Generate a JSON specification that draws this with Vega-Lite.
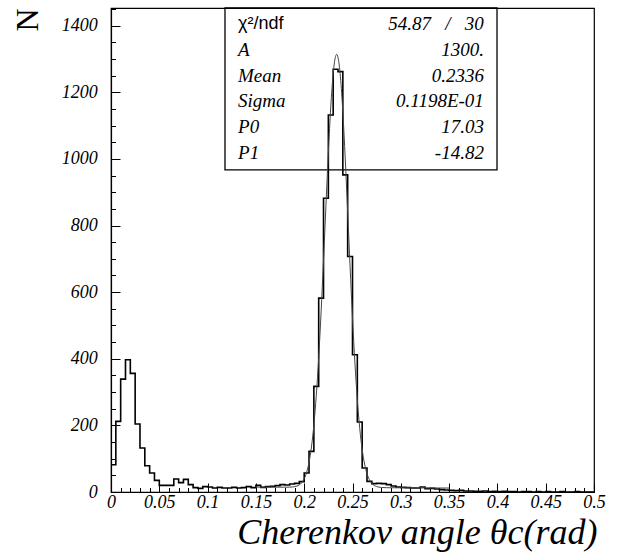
{
  "$schema": "https://vega.github.io/schema/vega-lite/v6.json",
  "width": 483,
  "height": 484,
  "autosize": {"type": "none"},
  "padding": {"left": 111, "top": 8, "right": 25, "bottom": 61},
  "background": "white",
  "config": {"view": {"stroke": "black", "strokeWidth": 1.2}, "font": "Liberation Serif"},
  "resolve": {"axis": {"x": "independent", "y": "independent"}},
  "datasets": {
    "hist": [
      {"lo": 0, "n": 82}, {"lo": 0.005, "n": 212}, {"lo": 0.01, "n": 339}, {"lo": 0.015, "n": 397}, {"lo": 0.02, "n": 356},
      {"lo": 0.025, "n": 204}, {"lo": 0.03, "n": 132}, {"lo": 0.035, "n": 79}, {"lo": 0.04, "n": 57}, {"lo": 0.045, "n": 35},
      {"lo": 0.05, "n": 20}, {"lo": 0.055, "n": 20}, {"lo": 0.06, "n": 20}, {"lo": 0.065, "n": 39}, {"lo": 0.07, "n": 28},
      {"lo": 0.075, "n": 38}, {"lo": 0.08, "n": 22}, {"lo": 0.085, "n": 13}, {"lo": 0.09, "n": 11}, {"lo": 0.095, "n": 16},
      {"lo": 0.1, "n": 15}, {"lo": 0.105, "n": 12}, {"lo": 0.11, "n": 14}, {"lo": 0.115, "n": 12}, {"lo": 0.12, "n": 12},
      {"lo": 0.125, "n": 14}, {"lo": 0.13, "n": 12}, {"lo": 0.135, "n": 13}, {"lo": 0.14, "n": 16}, {"lo": 0.145, "n": 13},
      {"lo": 0.15, "n": 20}, {"lo": 0.155, "n": 14}, {"lo": 0.16, "n": 16}, {"lo": 0.165, "n": 17}, {"lo": 0.17, "n": 19},
      {"lo": 0.175, "n": 22}, {"lo": 0.18, "n": 21}, {"lo": 0.185, "n": 24}, {"lo": 0.19, "n": 26}, {"lo": 0.195, "n": 31},
      {"lo": 0.2, "n": 57}, {"lo": 0.205, "n": 122}, {"lo": 0.21, "n": 317}, {"lo": 0.215, "n": 582}, {"lo": 0.22, "n": 882},
      {"lo": 0.225, "n": 1132}, {"lo": 0.23, "n": 1269}, {"lo": 0.235, "n": 1262}, {"lo": 0.24, "n": 952}, {"lo": 0.245, "n": 707},
      {"lo": 0.25, "n": 412}, {"lo": 0.255, "n": 210}, {"lo": 0.26, "n": 72}, {"lo": 0.265, "n": 32}, {"lo": 0.27, "n": 25},
      {"lo": 0.275, "n": 26}, {"lo": 0.28, "n": 25}, {"lo": 0.285, "n": 22}, {"lo": 0.29, "n": 18}, {"lo": 0.295, "n": 15},
      {"lo": 0.3, "n": 14}, {"lo": 0.305, "n": 13}, {"lo": 0.31, "n": 12}, {"lo": 0.315, "n": 12}, {"lo": 0.32, "n": 15},
      {"lo": 0.325, "n": 10}, {"lo": 0.33, "n": 11}, {"lo": 0.335, "n": 9}, {"lo": 0.34, "n": 7}, {"lo": 0.345, "n": 6},
      {"lo": 0.35, "n": 5}, {"lo": 0.355, "n": 4}, {"lo": 0.36, "n": 5}, {"lo": 0.365, "n": 3}, {"lo": 0.37, "n": 3},
      {"lo": 0.375, "n": 2}, {"lo": 0.38, "n": 2}, {"lo": 0.385, "n": 3}, {"lo": 0.39, "n": 1}, {"lo": 0.395, "n": 2},
      {"lo": 0.4, "n": 1}, {"lo": 0.405, "n": 2}, {"lo": 0.41, "n": 1}, {"lo": 0.415, "n": 1}, {"lo": 0.42, "n": 0},
      {"lo": 0.425, "n": 1}, {"lo": 0.43, "n": 1}, {"lo": 0.435, "n": 0}, {"lo": 0.44, "n": 1}, {"lo": 0.445, "n": 0},
      {"lo": 0.45, "n": 1}, {"lo": 0.455, "n": 0}, {"lo": 0.46, "n": 0}, {"lo": 0.465, "n": 1}, {"lo": 0.47, "n": 0},
      {"lo": 0.475, "n": 0}, {"lo": 0.48, "n": 1}, {"lo": 0.485, "n": 0}, {"lo": 0.49, "n": 0}, {"lo": 0.495, "n": 0},
      {"lo": 0.5, "n": 0}
    ],
    "fit": [
      {"x": 0.15, "f": 14.81}, {"x": 0.16, "f": 14.66}, {"x": 0.17, "f": 14.51}, {"x": 0.18, "f": 14.45}, {"x": 0.185, "f": 14.64},
      {"x": 0.19, "f": 15.94}, {"x": 0.1925, "f": 17.79}, {"x": 0.195, "f": 21.38}, {"x": 0.1975, "f": 27.97}, {"x": 0.2, "f": 39.5},
      {"x": 0.2025, "f": 58.8}, {"x": 0.205, "f": 89.2}, {"x": 0.2075, "f": 135.0}, {"x": 0.21, "f": 200.7}, {"x": 0.2125, "f": 289.6},
      {"x": 0.215, "f": 403.3}, {"x": 0.2175, "f": 540.8}, {"x": 0.22, "f": 696.3}, {"x": 0.2225, "f": 860.0}, {"x": 0.225, "f": 1018.3},
      {"x": 0.2275, "f": 1155.6}, {"x": 0.23, "f": 1256.3}, {"x": 0.2325, "f": 1308.1}, {"x": 0.2336, "f": 1313.6}, {"x": 0.235, "f": 1304.7},
      {"x": 0.2375, "f": 1246.4}, {"x": 0.24, "f": 1140.6}, {"x": 0.2425, "f": 999.9}, {"x": 0.245, "f": 840.1}, {"x": 0.2475, "f": 676.6},
      {"x": 0.25, "f": 522.5}, {"x": 0.2525, "f": 387.7}, {"x": 0.255, "f": 277.1}, {"x": 0.2575, "f": 190.9}, {"x": 0.26, "f": 127.8},
      {"x": 0.2625, "f": 84.0}, {"x": 0.265, "f": 55.0}, {"x": 0.2675, "f": 36.8}, {"x": 0.27, "f": 25.9}, {"x": 0.2725, "f": 19.7},
      {"x": 0.275, "f": 16.3}, {"x": 0.2775, "f": 14.5}, {"x": 0.28, "f": 13.6}, {"x": 0.285, "f": 12.94}, {"x": 0.29, "f": 12.73},
      {"x": 0.3, "f": 12.58}, {"x": 0.32, "f": 12.29}, {"x": 0.35, "f": 11.84}
    ],
    "stats": [
      {"name": "χ²/ndf", "val": "54.87\u00a0\u00a0\u00a0/\u00a0\u00a0\u00a030"},
      {"name": "A", "val": "1300."},
      {"name": "Mean", "val": "0.2336"},
      {"name": "Sigma", "val": "0.1198E-01"},
      {"name": "P0", "val": "17.03"},
      {"name": "P1", "val": "-14.82"}
    ],
    "box": [{"id": "stats"}]
  },
  "layer": [
    {
      "data": {"name": "box"},
      "mark": {"type": "rect", "fill": null, "fillOpacity": 0, "stroke": "black", "strokeWidth": 1.3},
      "encoding": {
        "x": {"datum": 0.118, "type": "quantitative", "axis": null},
        "x2": {"datum": 0.3996},
        "y": {"datum": 967, "type": "quantitative", "axis": null},
        "y2": {"datum": 1453}
      }
    },
    {
      "data": {"name": "hist"},
      "mark": {"type": "line", "interpolate": "step-after", "stroke": "black", "strokeWidth": 1.6},
      "encoding": {
        "x": {
          "field": "lo", "type": "quantitative",
          "scale": {"domain": [0, 0.5], "nice": false, "zero": false},
          "axis": {
            "orient": "bottom",
            "values": [0,0.05,0.1,0.15,0.2,0.25,0.3,0.35,0.4,0.45,0.5],
            "format": "~g",
            "title": "Cherenkov angle θc(rad)",
            "titleFont": "Liberation Serif", "titleFontStyle": "italic", "titleFontWeight": "normal", "titleFontSize": 36, "titleColor": "black",
            "titleAnchor": "end", "titleAlign": "right", "titleBaseline": "alphabetic", "titleX": 486, "titleY": 51,
            "labelFont": "Liberation Serif", "labelFontStyle": "italic", "labelFontSize": 18, "labelColor": "black",
            "labelOverlap": false, "labelFlush": false, "labelBaseline": "alphabetic", "labelPadding": 24.6,
            "tickSize": -9,
            "tickColor": "black", "tickWidth": 1, "domainColor": "black", "domainWidth": 1.2, "grid": false
          }
        },
        "y": {
          "field": "n", "type": "quantitative",
          "scale": {"domain": [0, 1453], "nice": false, "zero": true},
          "axis": {
            "orient": "left",
            "values": [0,200,400,600,800,1000,1200,1400],
            "format": "d",
            "title": "N",
            "titleFont": "Liberation Serif", "titleFontStyle": "normal", "titleFontWeight": "normal", "titleFontSize": 32, "titleColor": "black",
            "titleAngle": -90, "titleAlign": "right", "titleBaseline": "alphabetic", "titleX": -74, "titleY": 0,
            "labelFont": "Liberation Serif", "labelFontStyle": "italic", "labelFontSize": 18, "labelColor": "black",
            "labelOverlap": false, "labelFlush": false, "labelPadding": 22.7,
            "tickSize": -9,
            "tickColor": "black", "tickWidth": 1, "domainColor": "black", "domainWidth": 1.2, "grid": false
          }
        }
      }
    },
    {
      "data": {"name": "fit"},
      "mark": {"type": "line", "interpolate": "monotone", "stroke": "#444444", "strokeWidth": 1},
      "encoding": {
        "x": {
          "field": "x", "type": "quantitative",
          "axis": {
            "orient": "bottom",
            "values": [0,0.01,0.02,0.03,0.04,0.05,0.06,0.07,0.08,0.09,0.1,0.11,0.12,0.13,0.14,0.15,0.16,0.17,0.18,0.19,0.2,0.21,0.22,0.23,0.24,0.25,0.26,0.27,0.28,0.29,0.3,0.31,0.32,0.33,0.34,0.35,0.36,0.37,0.38,0.39,0.4,0.41,0.42,0.43,0.44,0.45,0.46,0.47,0.48,0.49,0.5],
            "labels": false, "title": null, "domain": false, "grid": false,
            "tickSize": -4.5, "tickColor": "black", "tickWidth": 1
          }
        },
        "y": {
          "field": "f", "type": "quantitative",
          "axis": {
            "orient": "left",
            "values": [0,50,100,150,200,250,300,350,400,450,500,550,600,650,700,750,800,850,900,950,1000,1050,1100,1150,1200,1250,1300,1350,1400,1450],
            "labels": false, "title": null, "domain": false, "grid": false,
            "tickSize": -4.5, "tickColor": "black", "tickWidth": 1
          }
        }
      }
    },
    {
      "data": {"name": "stats"},
      "transform": [{"filter": "datum.name != 'χ²/ndf'"}],
      "mark": {"type": "text", "align": "left", "baseline": "middle", "font": "Liberation Serif", "fontStyle": "italic", "fontSize": 19, "color": "black"},
      "encoding": {
        "x": {"datum": 0.1315, "type": "quantitative", "axis": null},
        "y": {"datum": 1453, "type": "quantitative", "axis": null},
        "yOffset": {"field": "name", "type": "nominal", "scale": {"type": "point", "padding": 0, "domain": ["χ²/ndf", "A", "Mean", "Sigma", "P0", "P1"], "range": [16, 145]}},
        "text": {"field": "name"}
      }
    },
    {
      "data": {"name": "stats"},
      "transform": [{"filter": "datum.name == 'χ²/ndf'"}],
      "mark": {"type": "text", "align": "left", "baseline": "middle", "font": "Liberation Sans", "fontStyle": "normal", "fontSize": 18, "color": "black"},
      "encoding": {
        "x": {"datum": 0.1315, "type": "quantitative", "axis": null},
        "y": {"datum": 1453, "type": "quantitative", "axis": null},
        "yOffset": {"field": "name", "type": "nominal", "scale": {"type": "point", "padding": 0, "domain": ["χ²/ndf", "A", "Mean", "Sigma", "P0", "P1"], "range": [16, 145]}},
        "text": {"field": "name"}
      }
    },
    {
      "data": {"name": "stats"},
      "mark": {"type": "text", "align": "right", "baseline": "middle", "font": "Liberation Serif", "fontStyle": "italic", "fontSize": 19, "color": "black"},
      "encoding": {
        "x": {"datum": 0.386, "type": "quantitative", "axis": null},
        "y": {"datum": 1453, "type": "quantitative", "axis": null},
        "yOffset": {"field": "name", "type": "nominal", "scale": {"type": "point", "padding": 0, "domain": ["χ²/ndf", "A", "Mean", "Sigma", "P0", "P1"], "range": [16, 145]}},
        "text": {"field": "val"}
      }
    }
  ]
}
